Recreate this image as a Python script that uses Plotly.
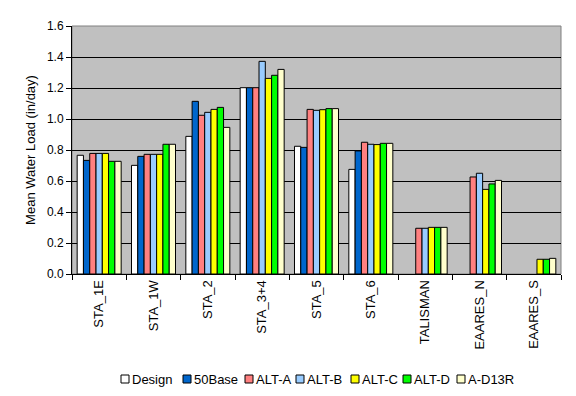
import plotly.graph_objects as go

categories = ["STA_1E", "STA_1W", "STA_2", "STA_3+4", "STA_5", "STA_6", "TALISMAN", "EAARES_N", "EAARES_S"]

design  = [0.766, 0.701, 0.888, 1.202, 0.824, 0.675, None, None, None]
base50  = [0.733, 0.759, 1.114, 1.202, 0.817, 0.794, None, None, None]
alt_a   = [0.778, 0.772, 1.024, 1.202, 1.062, 0.850, 0.295, 0.626, None]
alt_b   = [0.778, 0.772, 1.043, 1.372, 1.056, 0.837, 0.295, 0.650, None]
alt_c   = [0.778, 0.772, 1.062, 1.262, 1.060, 0.835, 0.301, 0.546, 0.095]
alt_d   = [0.727, 0.837, 1.075, 1.282, 1.067, 0.843, 0.301, 0.581, 0.095]
a_d13r  = [0.727, 0.837, 0.946, 1.320, 1.067, 0.843, 0.301, 0.604, 0.101]

series_names = ["Design", "50Base", "ALT-A", "ALT-B", "ALT-C", "ALT-D", "A-D13R"]
series_values = [design, base50, alt_a, alt_b, alt_c, alt_d, a_d13r]
series_colors = ["#FFFFFF", "#0066CC", "#FF8080", "#99CCFF", "#FFFF00", "#00FF00", "#FFFFCC"]

font_family = "Liberation Sans, Arial, sans-serif"

# layout geometry (page pixels); the page body has an 8px default margin
BODY = 8
PAGE_W, PAGE_H = 576, 396
PLOT_L, PLOT_R, PLOT_T, PLOT_B = 72, 561, 26, 274   # target plot-area edges on the page
FIG_W, FIG_H = PAGE_W - BODY, PAGE_H - BODY
M_L = PLOT_L - BODY
M_T = PLOT_T - BODY
M_R = FIG_W - (PLOT_R - BODY)
M_B = FIG_H - (PLOT_B - BODY)
PLOT_W = PLOT_R - PLOT_L
PLOT_H = PLOT_B - PLOT_T


def px_to_paper_x(px):
    return (px - PLOT_L) / PLOT_W


def px_to_paper_y(py):
    return (PLOT_B - py) / PLOT_H


fig = go.Figure()
for name, vals, color in zip(series_names, series_values, series_colors):
    fig.add_trace(go.Bar(
        x=categories, y=vals, name=name,
        marker=dict(color=color, line=dict(color="black", width=1)),
        showlegend=False,
    ))

fig.update_layout(
    width=FIG_W, height=FIG_H,
    margin=dict(l=M_L, r=M_R, t=M_T, b=M_B, autoexpand=False),
    paper_bgcolor="white",
    plot_bgcolor="#C0C0C0",
    barmode="group",
    bargap=0.19,
    bargroupgap=0,
    font=dict(family=font_family, size=12, color="black"),
    showlegend=False,
    xaxis=dict(
        tickangle=-90,
        showline=True, linecolor="black", linewidth=1,
        ticks="outside", tickson="boundaries", ticklen=5, tickcolor="black",
        showgrid=False,
        tickfont=dict(size=13),
    ),
    yaxis=dict(
        range=[0, 1.6],
        dtick=0.2,
        tickformat=".1f",
        showline=True, linecolor="black", linewidth=1,
        ticks="outside", ticklen=5, tickcolor="black",
        showgrid=True, gridcolor="black", gridwidth=1,
        zeroline=False,
        title=dict(text="Mean Water Load (in/day)", font=dict(size=13), standoff=8),
        tickfont=dict(size=12),
    ),
)

# plot-area frame (grey, like the original)
fig.add_shape(type="rect", xref="paper", yref="paper", x0=0, y0=0, x1=1, y1=1,
              line=dict(color="#808080", width=1), layer="below")

# custom compact legend at the bottom
legend_left_px = [121, 183, 245, 296, 351, 403, 457]
legend_cy_px = 379
sym = 8
for name, color, lx in zip(series_names, series_colors, legend_left_px):
    fig.add_shape(
        type="rect", xref="paper", yref="paper",
        x0=px_to_paper_x(lx), x1=px_to_paper_x(lx + sym),
        y0=px_to_paper_y(legend_cy_px + sym / 2), y1=px_to_paper_y(legend_cy_px - sym / 2),
        fillcolor=color, line=dict(color="black", width=1),
    )
    fig.add_annotation(
        text=name, xref="paper", yref="paper",
        x=px_to_paper_x(lx + sym + 1), y=px_to_paper_y(legend_cy_px),
        xanchor="left", yanchor="middle", showarrow=False,
        font=dict(size=13, family=font_family, color="black"),
    )

fig.write_html("out.html")
